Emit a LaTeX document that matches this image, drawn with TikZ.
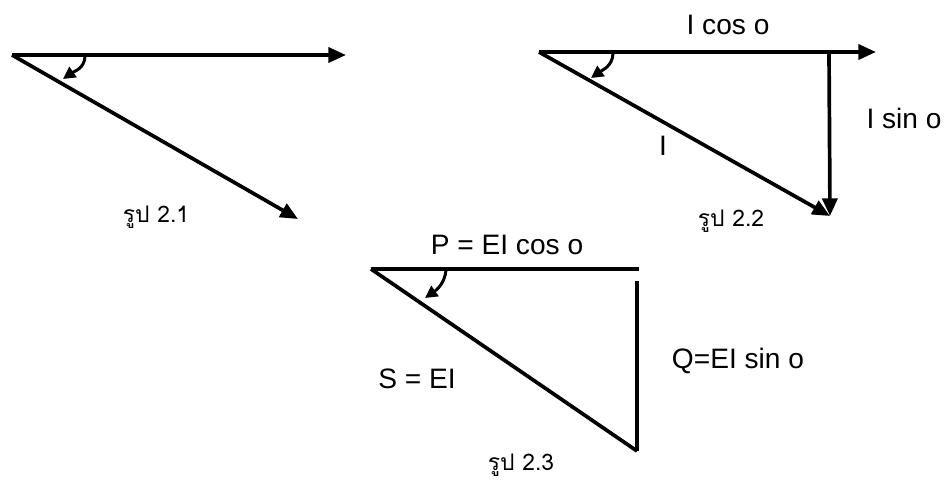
\documentclass[tikz,border=0pt]{standalone}
\usepackage{fontspec}
\setmainfont{Liberation Sans}
\newfontfamily\thaifont[Script=Thai]{Loma}
\usetikzlibrary{arrows.meta,positioning}

\begin{document}
\begin{tikzpicture}[x=0.02cm,y=-0.02cm,
  phasor/.style={line width=2.1pt,-{Triangle[length=10pt,width=8.5pt]}},
  side/.style={line width=2.1pt},
  anglearrow/.style={line width=1.7pt,-{Triangle[length=7pt,width=7pt]}},
  lbl/.style={font=\fontsize{16}{18}\selectfont,inner sep=1pt},
  figcap/.style={font=\thaifont\fontsize{13}{15}\selectfont,inner sep=1pt}]
  \useasboundingbox (0,0) rectangle (947,485);
  % Fig 2.1
  \coordinate (oa) at (12,55);
  \coordinate (ha) at (346,55);
  \coordinate (da) at (298,219);
  \draw[phasor] (oa) -- (ha);
  \draw[phasor] (oa) -- (da);
  \coordinate (a1s) at (85,56);
  \coordinate (a1e) at (63,79);
  \draw[anglearrow] (a1s) to[out=-90,in=35] (a1e);
  \node[figcap] (capa) at (156,217) {รูป 2.1};
  % Fig 2.2
  \coordinate (ob) at (539,52);
  \coordinate (hb) at (876,52);
  \coordinate (db) at (830,216);
  \coordinate (vb) at (829,52);
  \draw[phasor] (ob) -- (hb);
  \draw[phasor] (ob) -- (db);
  \draw[phasor] (vb) -- (db);
  \coordinate (a2s) at (613,53);
  \coordinate (a2e) at (591,78);
  \draw[anglearrow] (a2s) to[out=-90,in=35] (a2e);
  \node[lbl] (icos) at (728,25) {I cos o};
  \node[lbl] (isin) at (904,118) {I sin o};
  \node[lbl] (ib) at (663,146) {I};
  \node[figcap] (capb) at (731,221) {รูป 2.2};
  % Fig 2.3
  \coordinate (oc) at (371,269);
  \coordinate (hc) at (639,269);
  \coordinate (vt) at (637,281);
  \coordinate (dc) at (637,451);
  \draw[side] (oc) -- (hc);
  \draw[side] (oc) -- (dc);
  \draw[side] (vt) -- (dc);
  \coordinate (a3s) at (446,270);
  \coordinate (a3e) at (425,298);
  \draw[anglearrow] (a3s) to[out=-95,in=35] (a3e);
  \node[lbl] (pc) at (507,245) {P = EI cos o};
  \node[lbl] (qc) at (738,361) {Q=EI sin o};
  \node[lbl] (sc) at (417,379) {S = EI};
  \node[figcap] (capc) at (521,465) {รูป 2.3};
\end{tikzpicture}
\end{document}
